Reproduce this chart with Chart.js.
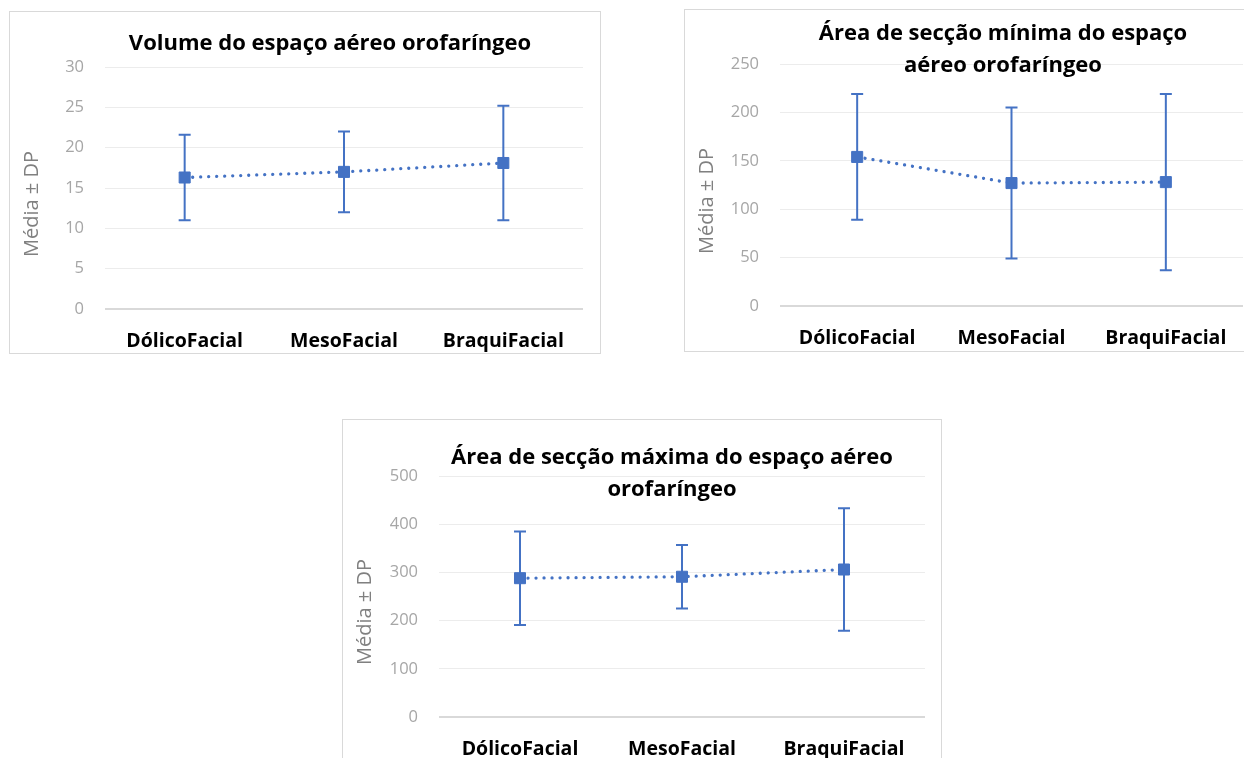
<!DOCTYPE html>
<html>
<head>
<meta charset="utf-8">
<script src="https://cdn.jsdelivr.net/npm/chart.js@4.4.1/dist/chart.umd.min.js"></script>
<style>
  html, body { margin: 0; padding: 0; background: #ffffff; width: 1244px; height: 758px; overflow: hidden; position: relative; }
  .panel { position: absolute; border: 1px solid #d9d9d9; background: #fff; }
  .panel canvas { display: block; }
</style>
</head>
<body>
<div class="panel" style="left:9px; top:11px; width:590px; height:341px;"><canvas id="c1" width="590" height="341"></canvas></div>
<div class="panel" style="left:684px; top:9px; width:578px; height:341px;"><canvas id="c2" width="578" height="341"></canvas></div>
<div class="panel" style="left:342px; top:419px; width:598px; height:341px;"><canvas id="c3" width="598" height="341"></canvas></div>
<script>
// ---- data ----
const categories = ['DólicoFacial', 'MesoFacial', 'BraquiFacial'];

const volumeTitle = ['Volume do espaço aéreo orofaríngeo'];
const volumeMeans = [16.3, 17.0, 18.1];
const volumeSD = [5.3, 5.0, 7.1];
const volumeTicks = [0, 5, 10, 15, 20, 25, 30];

const minTitle = ['Área de secção mínima do espaço', 'aéreo orofaríngeo'];
const minMeans = [154, 127, 128];
const minSD = [65, 78, 91];
const minTicks = [0, 50, 100, 150, 200, 250];

const maxTitle = ['Área de secção máxima do espaço aéreo', 'orofaríngeo'];
const maxMeans = [288, 291, 306];
const maxSD = [97, 66, 127];
const maxTicks = [0, 100, 200, 300, 400, 500];

const yAxisTitle = 'Média ± DP';

// ---- style ----
const BLUE = '#4472C4';
const FONT = '"Open Sans", Lato, "Liberation Sans", sans-serif';

const errorBars = {
  id: 'errorBars',
  beforeDatasetsDraw(chart, args, opts) {
    const ctx = chart.ctx;
    const y = chart.scales.y;
    const meta = chart.getDatasetMeta(0);
    const sd = opts.sd || [];
    ctx.save();
    ctx.strokeStyle = BLUE;
    ctx.lineWidth = 2;
    ctx.setLineDash([]);
    meta.data.forEach((pt, i) => {
      const m = chart.data.datasets[0].data[i];
      const yTop = y.getPixelForValue(m + sd[i]);
      const yBot = y.getPixelForValue(m - sd[i]);
      const x = pt.x;
      ctx.beginPath();
      ctx.moveTo(x, yTop); ctx.lineTo(x, yBot);
      ctx.moveTo(x - 6, yTop); ctx.lineTo(x + 6, yTop);
      ctx.moveTo(x - 6, yBot); ctx.lineTo(x + 6, yBot);
      ctx.stroke();
    });
    ctx.restore();
  }
};

const texts = {
  id: 'texts',
  afterDraw(chart, args, opts) {
    const ctx = chart.ctx;
    ctx.save();
    ctx.fillStyle = '#000000';
    ctx.font = 'bold 22px ' + FONT;
    ctx.textAlign = 'center';
    ctx.textBaseline = 'alphabetic';
    opts.lines.forEach((l, i) => ctx.fillText(l, opts.tx, opts.ty + i * opts.lh));
    ctx.translate(opts.yx, opts.yy);
    ctx.rotate(-Math.PI / 2);
    ctx.fillStyle = '#808080';
    ctx.font = '20px ' + FONT;
    ctx.textBaseline = 'middle';
    ctx.fillText(opts.ytitle, 0, 0);
    ctx.restore();
  }
};

function makeChart(id, means, sd, ticks, titleLines, geo) {
  const canvas = document.getElementById(id);
  const H = canvas.height, W = canvas.width;
  return new Chart(canvas, {
    type: 'line',
    data: {
      labels: categories,
      datasets: [{
        data: means,
        borderColor: BLUE,
        backgroundColor: BLUE,
        borderWidth: 3.3,
        borderDash: [0.01, 8],
        borderCapStyle: 'round',
        pointStyle: 'rect',
        pointRadius: 7.8,
        pointBorderWidth: 1,
        pointBackgroundColor: BLUE,
        pointBorderColor: BLUE,
        tension: 0,
        fill: false
      }]
    },
    options: {
      responsive: false,
      animation: false,
      devicePixelRatio: 1,
      layout: { padding: { top: geo.top, right: W - geo.right, left: 0, bottom: 0 } },
      plugins: {
        legend: { display: false },
        tooltip: { enabled: false },
        title: { display: false },
        errorBars: { sd: sd },
        texts: { lines: titleLines, tx: geo.tx, ty: geo.ty, lh: 32, ytitle: yAxisTitle, yx: geo.yx, yy: geo.yy }
      },
      scales: {
        x: {
          offset: true,
          grid: { display: false, drawTicks: false },
          border: { display: false },
          ticks: { color: '#000000', font: { family: FONT, size: 19.5, weight: 'bold' }, padding: geo.xpad, maxRotation: 0, autoSkip: false },
          afterFit: s => { s.height = H - geo.bottom; }
        },
        y: {
          min: ticks[0],
          max: ticks[ticks.length - 1],
          afterBuildTicks: s => { s.ticks = ticks.map(v => ({ value: v })); },
          grid: {
            drawTicks: false,
            color: c => (c.tick && c.tick.value === 0) ? '#d9d9d9' : '#ececec',
            lineWidth: c => (c.tick && c.tick.value === 0) ? 2 : 1
          },
          border: { display: false },
          ticks: { color: '#a6a6a6', font: { family: FONT, size: 16.5 }, padding: 21 },
          afterFit: s => { s.width = geo.left; }
        }
      }
    },
    plugins: [errorBars, texts]
  });
}

makeChart('c1', volumeMeans, volumeSD, volumeTicks, volumeTitle,
  { left: 95, right: 573, top: 55, bottom: 297, xpad: 21, tx: 320, ty: 38, yx: 22, yy: 192 });
makeChart('c2', minMeans, minSD, minTicks, minTitle,
  { left: 95, right: 558, top: 54, bottom: 296, xpad: 21, tx: 318, ty: 30, yx: 22, yy: 191 });
makeChart('c3', maxMeans, maxSD, maxTicks, maxTitle,
  { left: 96, right: 582, top: 56, bottom: 297, xpad: 21, tx: 329, ty: 44, yx: 22, yy: 192 });
</script>
</body>
</html>
